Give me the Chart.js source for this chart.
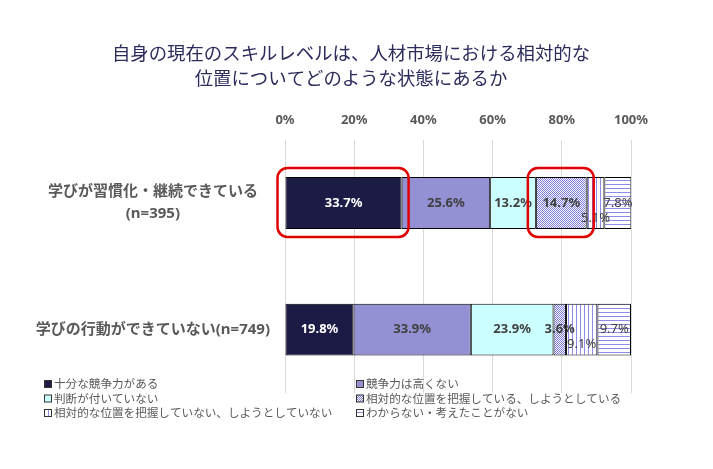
<!DOCTYPE html>
<html>
<head>
<meta charset="utf-8">
<script src="https://cdn.jsdelivr.net/npm/chart.js@4/dist/chart.umd.min.js"></script>
<style>
  html, body { margin: 0; padding: 0; background: #fff; }
  #wrap { width: 713px; height: 469px; }
</style>
</head>
<body>
<div id="wrap"><canvas id="chart" width="713" height="469"></canvas></div>
<script>
// Chart data
const titleLines = ['自身の現在のスキルレベルは、人材市場における相対的な', '位置についてどのような状態にあるか'];
const categories = [['学びが習慣化・継続できている', '(n=395)'], '学びの行動ができていない(n=749)'];
const seriesNames = [
  '十分な競争力がある',
  '競争力は高くない',
  '判断が付いていない',
  '相対的な位置を把握している、しようとしている',
  '相対的な位置を把握していない、しようとしていない',
  'わからない・考えたことがない'
];
const competitive = [33.7, 19.8];
const notHigh = [25.6, 33.9];
const undecided = [13.2, 23.9];
const aware = [14.7, 3.6];
const unaware = [5.1, 9.1];
const unknown = [7.8, 9.7];
const xTicks = [0, 20, 40, 60, 80, 100];
// highlighted segments: [category index, series index]
const highlighted = [[0, 0], [0, 3]];

const FONT = "'Noto Sans', 'Noto Sans CJK JP', sans-serif";
const CJK = "'Noto Sans CJK JP', sans-serif";

// Fill patterns
function makePattern(w, h, draw) {
  const c = document.createElement('canvas');
  c.width = w; c.height = h;
  const g = c.getContext('2d');
  g.fillStyle = '#fff';
  g.fillRect(0, 0, w, h);
  draw(g);
  return document.getElementById('chart').getContext('2d').createPattern(c, 'repeat');
}
const checker = makePattern(2, 2, g => {
  g.fillStyle = '#7a7ad8';
  g.fillRect(0, 0, 1, 1);
  g.fillRect(1, 1, 1, 1);
});
const vLines = makePattern(4, 4, g => {
  g.fillStyle = '#8c8cec';
  g.fillRect(0, 0, 1, 4);
});
const hLines = makePattern(4, 4, g => {
  g.fillStyle = '#8c8cec';
  g.fillRect(0, 0, 4, 1);
});

const fills = ['#1c1b45', '#9390d3', '#ccffff', checker, vLines, hLines];
const seriesData = [competitive, notHigh, undecided, aware, unaware, unknown];

// Title drawn centered over the whole figure
const titlePlugin = {
  id: 'titlePlugin',
  afterDraw(chart) {
    const ctx = chart.ctx;
    ctx.save();
    ctx.font = '18.4px ' + CJK;
    ctx.fillStyle = '#2b2b5c';
    ctx.textAlign = 'center';
    ctx.textBaseline = 'middle';
    titleLines.forEach((t, i) => ctx.fillText(t, 351, 53 + i * 25));
    ctx.restore();
  }
};

// Value labels inside segments
const valueLabels = {
  id: 'valueLabels',
  afterDatasetsDraw(chart) {
    const ctx = chart.ctx;
    ctx.save();
    ctx.textAlign = 'center';
    ctx.textBaseline = 'middle';
    chart.data.datasets.forEach((ds, di) => {
      chart.getDatasetMeta(di).data.forEach((bar, i) => {
        const p = bar.getProps(['x', 'y', 'base'], true);
        const small = di >= 4;
        ctx.font = (small ? '' : 'bold ') + '13px ' + FONT;
        ctx.fillStyle = di === 0 ? '#ffffff' : '#404040';
        const cy = p.y + (di === 4 ? 15 : 0);
        ctx.fillText(ds.data[i].toFixed(1) + '%', (p.x + p.base) / 2, cy);
      });
    });
    ctx.restore();
  }
};

// Red rounded frames around highlighted segments
const highlightPlugin = {
  id: 'highlightPlugin',
  afterDraw(chart) {
    const ctx = chart.ctx;
    ctx.save();
    ctx.strokeStyle = '#e00000';
    ctx.lineWidth = 2.5;
    highlighted.forEach(([ci, si]) => {
      const bar = chart.getDatasetMeta(si).data[ci];
      const p = bar.getProps(['x', 'y', 'base', 'height'], true);
      const left = Math.min(p.x, p.base) - 8;
      const right = Math.max(p.x, p.base) + 7;
      const top = p.y - p.height / 2 - 9;
      const bottom = p.y + p.height / 2 + 8;
      ctx.beginPath();
      ctx.roundRect(left, top, right - left, bottom - top, 10);
      ctx.stroke();
    });
    ctx.restore();
  }
};

// Two-column legend below the plot
const legendPlugin = {
  id: 'legendPlugin',
  afterDraw(chart) {
    const ctx = chart.ctx;
    const cols = [44, 356];
    ctx.save();
    ctx.font = '11.6px ' + CJK;
    ctx.textBaseline = 'middle';
    chart.data.datasets.forEach((ds, i) => {
      const x = cols[i % 2];
      const y = 384 + Math.floor(i / 2) * 14.5;
      ctx.fillStyle = ds.backgroundColor;
      ctx.fillRect(x, y - 3.5, 7, 7);
      ctx.strokeStyle = '#333';
      ctx.lineWidth = 1;
      ctx.strokeRect(x + 0.5, y - 3.5, 7, 7);
      ctx.fillStyle = '#595959';
      ctx.fillText(ds.label, x + 10, y);
    });
    ctx.restore();
  }
};

new Chart(document.getElementById('chart'), {
  type: 'bar',
  data: {
    labels: categories,
    datasets: seriesData.map((d, i) => ({
      label: seriesNames[i],
      data: d,
      backgroundColor: fills[i],
      borderColor: '#000',
      borderWidth: 1,
      borderSkipped: false,
      barPercentage: 0.82,
      categoryPercentage: 0.5
    }))
  },
  options: {
    indexAxis: 'y',
    responsive: false,
    animation: false,
    layout: { padding: { left: 10, right: 82, top: 100, bottom: 76 } },
    plugins: {
      legend: { display: false },
      tooltip: { enabled: false },
      title: { display: false }
    },
    scales: {
      x: {
        position: 'top',
        stacked: true,
        min: 0,
        max: 100,
        afterBuildTicks: s => { s.ticks = xTicks.map(v => ({ value: v })); },
        ticks: {
          padding: 12,
          color: '#595959',
          font: { family: FONT, size: 13, weight: 'bold' },
          callback: v => v + '%'
        },
        grid: { color: '#d9d9d9', drawTicks: false },
        border: { display: false }
      },
      y: {
        stacked: true,
        afterFit: s => { s.width = 275; },
        ticks: {
          padding: 7,
          crossAlign: 'center',
          color: '#595959',
          font: { family: FONT, size: 15, weight: 'bold', lineHeight: 1.5 }
        },
        grid: { display: false },
        border: { display: false }
      }
    }
  },
  plugins: [titlePlugin, valueLabels, highlightPlugin, legendPlugin]
});
</script>
</body>
</html>
